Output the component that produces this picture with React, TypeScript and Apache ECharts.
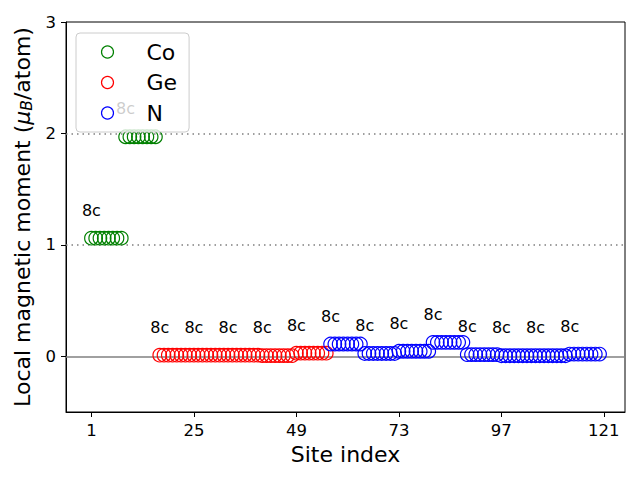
import React, { useEffect, useRef } from "react";
import * as echarts from "echarts";

// Local magnetic moments per site (μB/atom), sites numbered consecutively from 1
const coMoments = [
  1.06, 1.06, 1.06, 1.06, 1.06, 1.06, 1.06, 1.06,
  1.97, 1.97, 1.97, 1.97, 1.97, 1.97, 1.97, 1.97,
];
const geMoments = [
  0.01, 0.01, 0.01, 0.01, 0.01, 0.01, 0.01, 0.01,
  0.01, 0.01, 0.01, 0.01, 0.01, 0.01, 0.01, 0.01,
  0.01, 0.01, 0.01, 0.01, 0.01, 0.01, 0.01, 0.01,
  0.006, 0.006, 0.006, 0.006, 0.006, 0.006, 0.006, 0.006,
  0.028, 0.028, 0.028, 0.028, 0.028, 0.028, 0.028, 0.028,
];
const nMoments = [
  0.11, 0.11, 0.11, 0.11, 0.11, 0.11, 0.11, 0.11,
  0.025, 0.025, 0.025, 0.025, 0.025, 0.025, 0.025, 0.025,
  0.045, 0.045, 0.045, 0.045, 0.045, 0.045, 0.045, 0.045,
  0.125, 0.125, 0.125, 0.125, 0.125, 0.125, 0.125, 0.125,
  0.015, 0.015, 0.015, 0.015, 0.015, 0.015, 0.015, 0.015,
  0.005, 0.005, 0.005, 0.005, 0.005, 0.005, 0.005, 0.005,
  0.005, 0.005, 0.005, 0.005, 0.005, 0.005, 0.005, 0.005,
  0.02, 0.02, 0.02, 0.02, 0.02, 0.02, 0.02, 0.02,
];
const elements = ["Co", "Ge", "N"];
const wyckoffLabels = [
  "8c", "8c",
  "8c", "8c", "8c", "8c", "8c",
  "8c", "8c", "8c", "8c", "8c", "8c", "8c", "8c",
];
const groupSize = 8;
const xTicks = [1, 25, 49, 73, 97, 121];
const yTicks = [0, 1, 2, 3];
const dottedRefs = [1, 2];
const zeroRef = 0;

const colors = ["#008000", "#ff0000", "#0000ff"];
const FONT = "DejaVu Sans";

export default function App() {
  const ref = useRef<HTMLDivElement>(null);

  useEffect(() => {
    if (!ref.current) return;
    const chart = echarts.init(ref.current, undefined, { renderer: "svg" });

    const groups = [coMoments, geMoments, nMoments];
    let site = 1;
    let groupCounter = 0;
    const series: any[] = groups.map((vals, si) => {
      const data = vals.map((v, i) => {
        const x = site + i;
        const item: any = { value: [x, v] };
        if (i % groupSize === 0) {
          const lbl = wyckoffLabels[groupCounter++];
          item.label = {
            show: true,
            formatter: lbl,
            position: "inside",
            offset: [0, -28],
            color: "#000",
            fontSize: 16,
            fontFamily: FONT,
          };
        }
        return item;
      });
      site += vals.length;
      const s: any = {
        name: elements[si],
        type: "scatter",
        symbol: "circle",
        symbolSize: 13.5,
        data,
        itemStyle: {
          color: "none",
          borderColor: colors[si],
          borderWidth: 1.2,
          opacity: 1,
        },
        label: { show: false },
        emphasis: { disabled: true },
        z: 3,
      };
      if (si === 0) {
        s.markLine = {
          silent: true,
          symbol: "none",
          animation: false,
          label: { show: false },
          z: 1,
          data: [
            {
              yAxis: zeroRef,
              lineStyle: { color: "#808080", type: "solid", width: 1.5 },
            },
            ...dottedRefs.map((r) => ({
              yAxis: r,
              lineStyle: { color: "#808080", type: [1.5, 4], width: 1.5 },
            })),
          ],
        };
      }
      return s;
    });

    chart.setOption({
      animation: false,
      textStyle: { fontFamily: FONT },
      grid: {
        left: 66,
        right: 15,
        top: 22,
        bottom: 68,
        show: true,
        borderColor: "#000",
        borderWidth: 1,
        backgroundColor: "transparent",
      },
      legend: {
        orient: "vertical",
        left: 76,
        top: 33,
        z: 10,
        padding: [8, 12, 8, 23],
        itemWidth: 12,
        itemHeight: 12,
        itemGap: 8.5,
        backgroundColor: "rgba(255,255,255,0.8)",
        borderColor: "#cccccc",
        borderWidth: 1,
        borderRadius: 4,
        data: elements,
        itemStyle: { borderWidth: 1.2 },
        textStyle: {
          fontSize: 22,
          fontFamily: FONT,
          color: "#000",
          lineHeight: 22,
          padding: [0, 0, 0, 28],
        },
      },
      xAxis: {
        type: "value",
        min: -4.95,
        max: 125.95,
        name: "Site index",
        nameLocation: "middle",
        nameGap: 31,
        nameTextStyle: { fontSize: 22, color: "#000", fontFamily: FONT },
        axisLine: { show: true, onZero: false, lineStyle: { color: "#000", width: 1 } },
        axisTick: {
          show: true,
          length: 5,
          inside: false,
          customValues: xTicks,
          lineStyle: { color: "#000" },
        },
        axisLabel: {
          customValues: xTicks,
          fontSize: 16.5,
          color: "#000",
          margin: 10,
          fontFamily: FONT,
        },
        splitLine: { show: false },
      },
      yAxis: {
        type: "value",
        min: -0.5,
        max: 3,
        name: "Local magnetic moment ({i|μ}{s|B}/atom)",
        nameLocation: "middle",
        nameGap: 30,
        nameTextStyle: {
          fontSize: 22,
          color: "#000",
          fontFamily: FONT,
          rich: {
            i: { fontSize: 22, fontStyle: "italic", fontFamily: FONT, color: "#000" },
            s: {
              fontSize: 15.5,
              fontStyle: "italic",
              fontFamily: FONT,
              color: "#000",
              verticalAlign: "bottom",
              padding: [8, 0, 0, 0],
            },
          },
        },
        axisLine: { show: true, onZero: false, lineStyle: { color: "#000", width: 1 } },
        axisTick: {
          show: true,
          length: 5,
          inside: false,
          customValues: yTicks,
          lineStyle: { color: "#000" },
        },
        axisLabel: {
          customValues: yTicks,
          fontSize: 16.5,
          color: "#000",
          margin: 10,
          fontFamily: FONT,
        },
        splitLine: { show: false },
      },
      series,
    });

    return () => chart.dispose();
  }, []);

  return <div ref={ref} style={{ width: 640, height: 480, margin: -8 }} />;
}
